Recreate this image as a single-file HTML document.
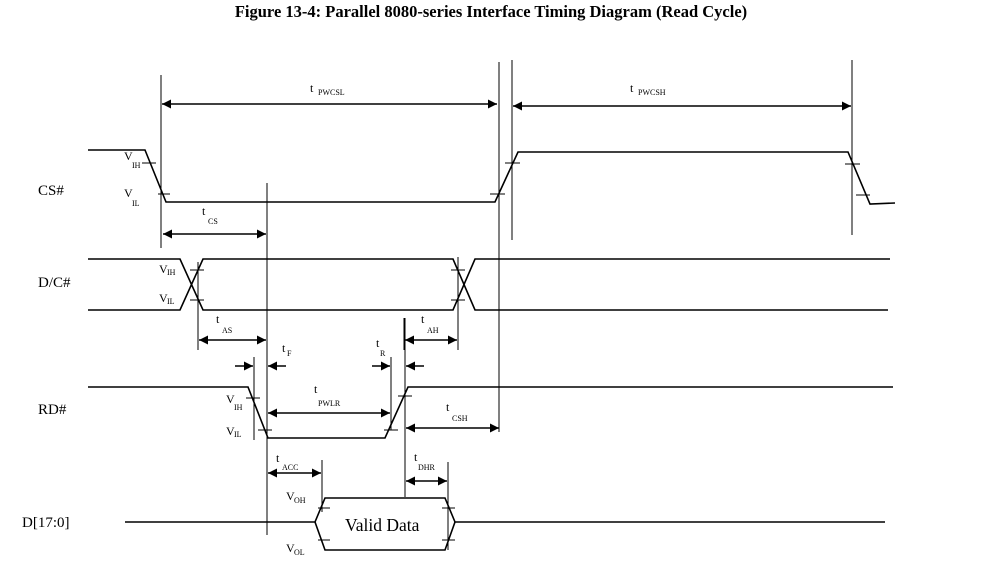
<!DOCTYPE html>
<html><head><style>
body{margin:0;background:#fff;}
svg text{font-family:"Liberation Serif",serif;fill:#000;}
</style></head><body>
<svg width="998" height="568" xmlns="http://www.w3.org/2000/svg">
<defs>
<marker id="a" viewBox="0 0 10 10" refX="10" refY="5" markerWidth="9" markerHeight="9" orient="auto-start-reverse" markerUnits="userSpaceOnUse"><path d="M0,0L10,5L0,10z" fill="#000"/></marker>
</defs>
<text x="491" y="17" font-size="16.5" font-weight="bold" text-anchor="middle">Figure 13-4: Parallel 8080-series Interface Timing Diagram (Read Cycle)</text>
<g stroke="#000" fill="none" stroke-width="1.6">
<polyline points="88,150 145,150 166,202 495,202 518,152 848,152 870,204 895,203"/>
<polyline points="88,259 180,259 203,310 453,310 475,259 890,259"/>
<polyline points="88,310 180,310 203,259 453,259 475,310 888,310"/>
<polyline points="88,387 248,387 268,438 385,438 408,387 893,387"/>
<polyline points="125,522 315,522 325,498 445,498 455,522 885,522"/>
<polyline points="315,522 325,550 445,550 455,522"/>
</g>
<g stroke="#000" stroke-width="1">
<line x1="161" y1="75" x2="161" y2="248"/>
<line x1="267" y1="183" x2="267" y2="535"/>
<line x1="499" y1="62" x2="499" y2="432"/>
<line x1="512" y1="60" x2="512" y2="240"/>
<line x1="852" y1="60" x2="852" y2="235"/>
<line x1="198" y1="262" x2="198" y2="350"/>
<line x1="458" y1="257" x2="458" y2="350"/>
<line x1="404" y1="318" x2="404" y2="350"/>
<line x1="254" y1="357" x2="254" y2="440"/>
<line x1="391" y1="357" x2="391" y2="430"/>
<line x1="405" y1="318" x2="405" y2="497"/>
<line x1="322" y1="460" x2="322" y2="512"/>
<line x1="448" y1="462" x2="448" y2="550"/>
<line x1="142" y1="163" x2="156" y2="163"/>
<line x1="158" y1="194" x2="170" y2="194"/>
<line x1="505" y1="163" x2="520" y2="163"/>
<line x1="490" y1="194" x2="505" y2="194"/>
<line x1="845" y1="164" x2="860" y2="164"/>
<line x1="856" y1="195" x2="870" y2="195"/>
<line x1="190" y1="270" x2="204" y2="270"/>
<line x1="190" y1="300" x2="204" y2="300"/>
<line x1="451" y1="270" x2="465" y2="270"/>
<line x1="451" y1="300" x2="465" y2="300"/>
<line x1="246" y1="398" x2="260" y2="398"/>
<line x1="258" y1="430" x2="272" y2="430"/>
<line x1="398" y1="396" x2="412" y2="396"/>
<line x1="384" y1="430" x2="398" y2="430"/>
<line x1="318" y1="508" x2="330" y2="508"/>
<line x1="318" y1="540" x2="330" y2="540"/>
<line x1="442" y1="508" x2="455" y2="508"/>
<line x1="442" y1="540" x2="455" y2="540"/>
</g>
<g stroke="#000" stroke-width="1.4" marker-start="url(#a)" marker-end="url(#a)">
<line x1="162" y1="104" x2="497" y2="104"/>
<line x1="513" y1="106" x2="851" y2="106"/>
<line x1="163" y1="234" x2="266" y2="234"/>
<line x1="199" y1="340" x2="266" y2="340"/>
<line x1="405" y1="340" x2="457" y2="340"/>
<line x1="268" y1="413" x2="390" y2="413"/>
<line x1="406" y1="428" x2="499" y2="428"/>
<line x1="268" y1="473" x2="321" y2="473"/>
<line x1="406" y1="481" x2="447" y2="481"/>
</g>
<g stroke="#000" stroke-width="1.4" marker-end="url(#a)">
<line x1="235" y1="366" x2="253" y2="366"/>
<line x1="286" y1="366" x2="268" y2="366"/>
<line x1="372" y1="366" x2="390" y2="366"/>
<line x1="424" y1="366" x2="406" y2="366"/>
</g>
<g font-size="15">
<text x="38" y="195">CS#</text>
<text x="38" y="287">D/C#</text>
<text x="38" y="414">RD#</text>
<text x="22" y="527">D[17:0]</text>
<text x="345" y="531" font-size="17.5">Valid Data</text>
</g>
<g font-size="12">
<text x="310" y="92">t</text><text x="318" y="95" font-size="8">PWCSL</text>
<text x="630" y="92">t</text><text x="638" y="95" font-size="8">PWCSH</text>
<text x="202" y="215">t</text><text x="208" y="224" font-size="8">CS</text>
<text x="216" y="323">t</text><text x="222" y="333" font-size="8">AS</text>
<text x="421" y="323">t</text><text x="427" y="333" font-size="8">AH</text>
<text x="282" y="352">t</text><text x="287" y="356" font-size="8">F</text>
<text x="376" y="347">t</text><text x="380" y="356" font-size="8">R</text>
<text x="314" y="393">t</text><text x="318" y="406" font-size="8">PWLR</text>
<text x="446" y="411">t</text><text x="452" y="421" font-size="8">CSH</text>
<text x="276" y="462">t</text><text x="282" y="470" font-size="8">ACC</text>
<text x="414" y="461">t</text><text x="418" y="470" font-size="8">DHR</text>
<text x="124" y="160">V</text><text x="132" y="168" font-size="8">IH</text>
<text x="124" y="197">V</text><text x="132" y="206" font-size="8">IL</text>
<text x="159" y="273">V</text><text x="167" y="275" font-size="8">IH</text>
<text x="159" y="302">V</text><text x="167" y="304" font-size="8">IL</text>
<text x="226" y="403">V</text><text x="234" y="410" font-size="8">IH</text>
<text x="226" y="435">V</text><text x="234" y="437" font-size="8">IL</text>
<text x="286" y="500">V</text><text x="294" y="503" font-size="8">OH</text>
<text x="286" y="552">V</text><text x="294" y="555" font-size="8">OL</text>
</g>
</svg>
</body></html>
